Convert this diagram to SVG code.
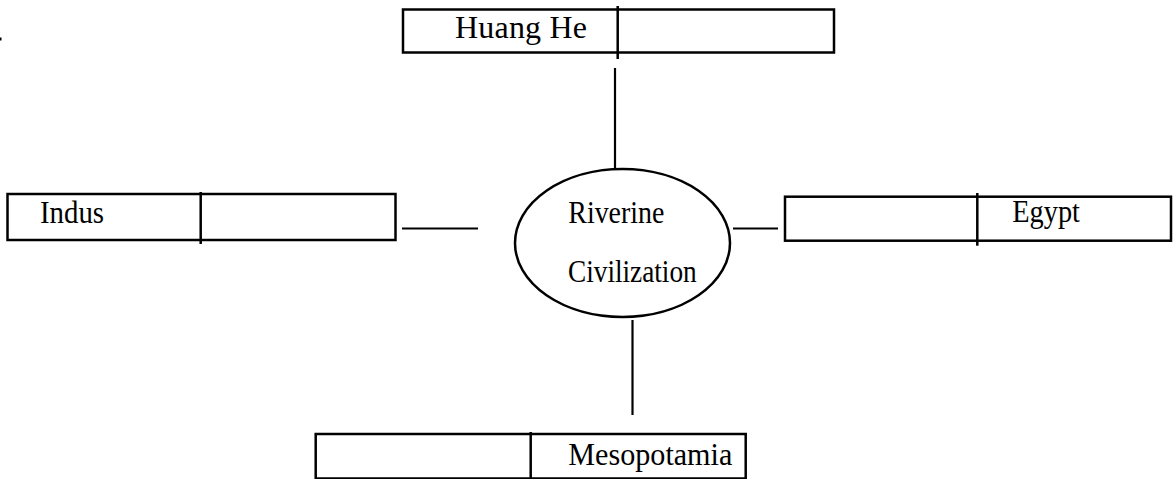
<svg xmlns="http://www.w3.org/2000/svg" width="1175" height="479" viewBox="0 0 1175 479">
<style>
.box{fill:#fff;stroke:#000;stroke-width:2.5}
.div{stroke:#000;stroke-width:2.5}
.con{stroke:#000;stroke-width:2.2;fill:none}
text{font-family:'Liberation Serif','Times New Roman',Times,serif;font-size:32px;fill:#000}
</style>
<rect x="0" y="37.5" width="1.5" height="3" fill="#000"/>
<g id="connectors">
<line class="con" x1="615" y1="68" x2="615" y2="169"/>
<line class="con" x1="402" y1="228.5" x2="478" y2="228.5"/>
<line class="con" x1="733" y1="228.5" x2="778" y2="228.5"/>
<line class="con" x1="632.5" y1="320" x2="632.5" y2="415"/>
</g>
<g id="center">
<ellipse class="box" cx="622.5" cy="243" rx="107.5" ry="74"/>
<text x="568.3" y="222.5" textLength="96" lengthAdjust="spacingAndGlyphs">Riverine</text>
<text x="568" y="281.7" textLength="128.7" lengthAdjust="spacingAndGlyphs">Civilization</text>
</g>
<g id="huangHe">
<rect class="box" x="403" y="9.5" width="431" height="43"/>
<line class="div" x1="617.7" y1="6" x2="617.7" y2="59"/>
<text x="455" y="38" font-size="28" textLength="132" lengthAdjust="spacing">Huang He</text>
</g>
<g id="indus">
<rect class="box" x="7.5" y="194" width="388" height="46"/>
<line class="div" x1="200.7" y1="192" x2="200.7" y2="244"/>
<text x="40" y="222.7" textLength="64" lengthAdjust="spacingAndGlyphs">Indus</text>
</g>
<g id="egypt">
<rect class="box" x="785" y="196.7" width="386" height="44"/>
<line class="div" x1="977.3" y1="193" x2="977.3" y2="245.7"/>
<text x="1012.3" y="222.3" textLength="67.7" lengthAdjust="spacingAndGlyphs">Egypt</text>
</g>
<g id="mesopotamia">
<rect class="box" x="315.7" y="434" width="430" height="44.5"/>
<line class="div" x1="530.7" y1="432" x2="530.7" y2="479"/>
<text x="568.3" y="465" font-size="30" textLength="164" lengthAdjust="spacingAndGlyphs">Mesopotamia</text>
</g>
</svg>
